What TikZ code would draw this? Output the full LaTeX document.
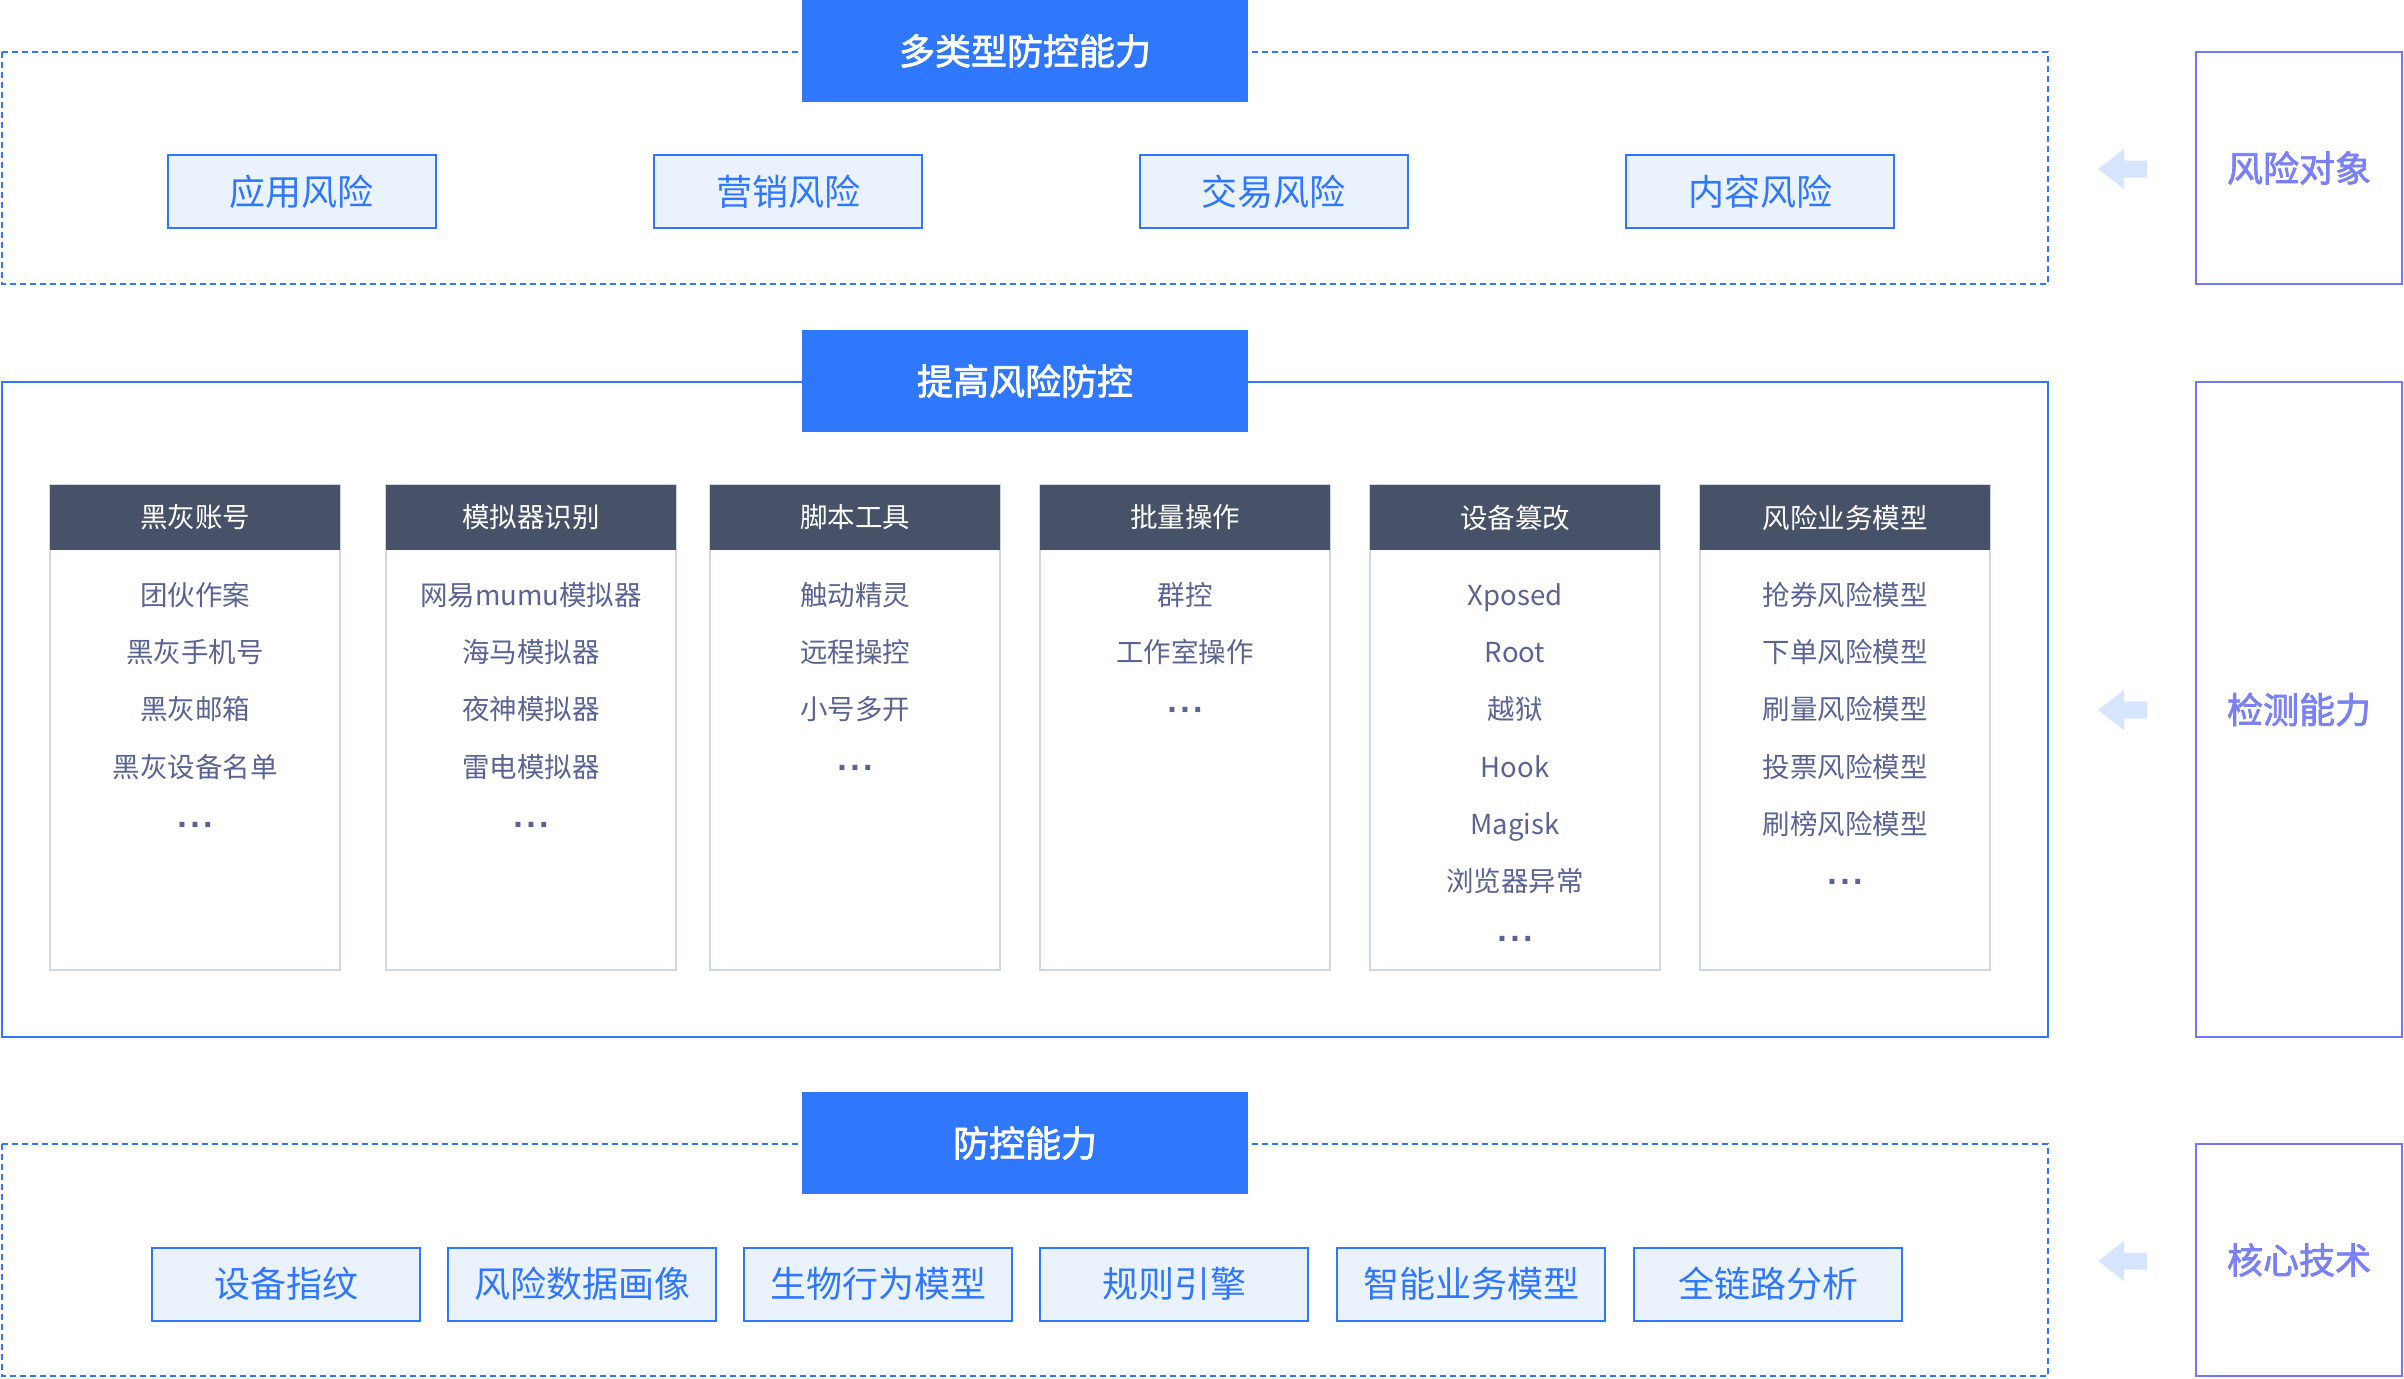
\documentclass[tikz,border=0pt]{standalone}
\usepackage{fontspec}
\setmainfont{Noto Sans CJK SC}
\newfontfamily\medfont{Noto Sans CJK SC}[FakeBold=2]
\newfontfamily\dotfont{DejaVu Sans Bold}
\definecolor{mainblue}{HTML}{2F77FC}
\definecolor{boxfill}{HTML}{EAF2FE}
\definecolor{headc}{HTML}{475269}
\definecolor{itemc}{HTML}{5A6394}
\definecolor{colborder}{HTML}{CDD7EC}
\definecolor{purp}{HTML}{7078F5}
\definecolor{purptxt}{HTML}{7A80F5}
\definecolor{arrowc}{HTML}{D6E5FD}
\newcommand{\bigtxt}{\fontsize{18}{20}\selectfont}
\newcommand{\smalltxt}{\fontsize{13.75}{15}\selectfont}
\newcommand{\mydots}{{\dotfont ·\kern1.2pt·\kern1.2pt·}}
\newcommand{\leftblk}[2]{%
  \fill[arrowc] (#1,#2) -- ++(26,-20) -- ++(0,11.5) -- ++(23,0) -- ++(0,17) -- ++(-23,0) -- ++(0,11.5) -- cycle;}
\tikzset{
  frameline/.style={draw=mainblue, line width=1pt},
  dashframe/.style={draw=mainblue, line width=1pt, dash pattern=on 3pt off 2pt},
  titlebox/.style={fill=mainblue, draw=none, text=white, font=\bigtxt\medfont,
    minimum width=223pt, minimum height=51pt, inner sep=0pt},
  riskbox/.style={fill=boxfill, draw=mainblue, line width=1pt, text=mainblue, font=\bigtxt,
    minimum width=134pt, minimum height=36.5pt, inner sep=0pt},
  colbody/.style={draw=colborder, line width=1pt, fill=white,
    minimum width=145pt, minimum height=242.5pt, inner sep=0pt},
  colhead/.style={fill=headc, draw=none, text=white, font=\smalltxt,
    minimum width=145pt, minimum height=32.5pt, inner sep=0pt},
  itemtxt/.style={text=itemc, font=\smalltxt, inner sep=0pt, text height=0.88em, text depth=0.12em},
  sidebox/.style={draw=purp, line width=1pt, text=purptxt, font=\bigtxt\medfont,
    minimum width=103pt, inner sep=0pt},
}
\begin{document}
\begin{tikzpicture}[x=0.5pt,y=-0.5pt]
\useasboundingbox[fill=white] (0,0) rectangle (2404,1378);

% ---------- section 1 ----------
\draw[dashframe] (2,52) rectangle (2048,284);
\node[titlebox] (t1) at (1025,51) {多类型防控能力};
\node[riskbox] (r1) at (301.75,191.5) {应用风险};
\node[riskbox] (r2) at (788,191.5) {营销风险};
\node[riskbox] (r3) at (1273.5,191.5) {交易风险};
\node[riskbox] (r4) at (1760,191.5) {内容风险};

% ---------- section 2 ----------
\draw[frameline] (2,382) rectangle (2048,1037);
\node[titlebox] (t2) at (1025,381) {提高风险防控};

\foreach \cx/\name/\head in {195/c1/黑灰账号, 531/c2/模拟器识别, 855/c3/脚本工具, 1185/c4/批量操作, 1515/c5/设备篡改, 1845/c6/风险业务模型}{
  \node[colbody] (\name) at (\cx,727.5) {};
  \node[colhead] (\name h) at (\cx,517.5) {\head};
}

\foreach \t [count=\i from 0] in {团伙作案, 黑灰手机号, 黑灰邮箱, 黑灰设备名单, \mydots}
  \node[itemtxt] (c1i\i) at (195,597.5+57.3*\i) {\t};
\foreach \t [count=\i from 0] in {网易mumu模拟器, 海马模拟器, 夜神模拟器, 雷电模拟器, \mydots}
  \node[itemtxt] (c2i\i) at (531,597.5+57.3*\i) {\t};
\foreach \t [count=\i from 0] in {触动精灵, 远程操控, 小号多开, \mydots}
  \node[itemtxt] (c3i\i) at (855,597.5+57.3*\i) {\t};
\foreach \t [count=\i from 0] in {群控, 工作室操作, \mydots}
  \node[itemtxt] (c4i\i) at (1185,597.5+57.3*\i) {\t};
\foreach \t [count=\i from 0] in {Xposed, Root, 越狱, Hook, Magisk, 浏览器异常, \mydots}
  \node[itemtxt] (c5i\i) at (1515,597.5+57.3*\i) {\t};
\foreach \t [count=\i from 0] in {抢券风险模型, 下单风险模型, 刷量风险模型, 投票风险模型, 刷榜风险模型, \mydots}
  \node[itemtxt] (c6i\i) at (1845,597.5+57.3*\i) {\t};

% ---------- section 3 ----------
\draw[dashframe] (2,1144) rectangle (2048,1376);
\node[titlebox] (t3) at (1025,1143) {防控能力};
\node[riskbox] (b1) at (286,1284) {设备指纹};
\node[riskbox] (b2) at (582,1284) {风险数据画像};
\node[riskbox] (b3) at (878,1284) {生物行为模型};
\node[riskbox] (b4) at (1174,1284) {规则引擎};
\node[riskbox] (b5) at (1471,1284) {智能业务模型};
\node[riskbox] (b6) at (1768,1284) {全链路分析};

% ---------- right side ----------
\node[sidebox, minimum height=116pt] (s1) at (2299,168) {风险对象};
\node[sidebox, minimum height=327.5pt] (s2) at (2299,709.5) {检测能力};
\node[sidebox, minimum height=116pt] (s3) at (2299,1260) {核心技术};

\leftblk{2098}{169}
\leftblk{2098}{710}
\leftblk{2098}{1261}
\end{tikzpicture}
\end{document}
